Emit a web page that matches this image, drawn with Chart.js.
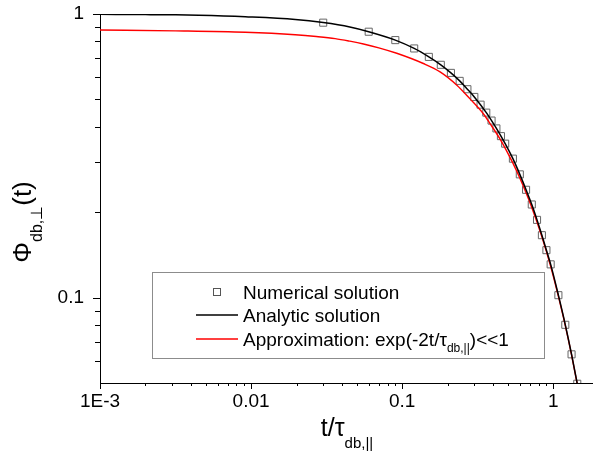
<!DOCTYPE html>
<html>
<head>
<meta charset="utf-8">
<title>Phi db perp</title>
<script src="https://cdn.jsdelivr.net/npm/chart.js@4.4.1/dist/chart.umd.min.js"></script>
<style>
  html, body { margin: 0; padding: 0; background: #fff; }
  #wrap { width: 593px; height: 456px; }
</style>
</head>
<body>
<div id="wrap"><canvas id="myChart" width="593" height="456"></canvas></div>
<script>
// numerical solution (open squares)
const numT = [0.03, 0.06, 0.09, 0.12, 0.15, 0.18, 0.21, 0.24, 0.27, 0.30, 0.33, 0.36, 0.39, 0.42, 0.45, 0.48,
              0.54, 0.60, 0.66, 0.72, 0.78, 0.84, 0.90, 0.96, 1.08, 1.20, 1.32, 1.44];
const numPhi = [0.932, 0.866, 0.809, 0.756, 0.706, 0.662, 0.620, 0.581, 0.543, 0.510, 0.479, 0.449, 0.421, 0.395, 0.371, 0.349,
                0.309, 0.272, 0.240, 0.213, 0.188, 0.166, 0.147, 0.131, 0.102, 0.0802, 0.0631, 0.0497];

// analytic solution (black)
const anaT = [0.001, 0.002, 0.00316, 0.0045, 0.00916, 0.0196, 0.03, 0.045, 0.06, 0.09, 0.12, 0.15, 0.18, 0.21, 0.24, 0.27, 0.30,
              0.36, 0.42, 0.48, 0.54, 0.60, 0.66, 0.72, 0.78, 0.84, 0.90, 0.96, 1.08, 1.20, 1.32, 1.44, 1.50];
const anaPhi = [0.997, 0.995, 0.993, 0.990, 0.978, 0.957, 0.933, 0.900, 0.866, 0.809, 0.756, 0.706, 0.662, 0.620, 0.581, 0.543, 0.510,
                0.449, 0.395, 0.349, 0.309, 0.272, 0.240, 0.213, 0.188, 0.166, 0.147, 0.131, 0.102, 0.0802, 0.0631, 0.0497, 0.044];

// approximation exp(-2t/tau) (red)
const aprT = [0.001, 0.00316, 0.00916, 0.0196, 0.027, 0.036, 0.045, 0.0554, 0.07, 0.092, 0.138, 0.178, 0.23, 0.28, 0.344, 0.381,
              0.45, 0.54, 0.60, 0.72, 0.84, 0.96, 1.08, 1.20, 1.32, 1.44, 1.50];
const aprPhi = [0.878, 0.872, 0.862, 0.845, 0.833, 0.819, 0.802, 0.784, 0.760, 0.727, 0.669, 0.625, 0.561, 0.503, 0.445, 0.411,
                0.358, 0.298, 0.264, 0.208, 0.164, 0.129, 0.101, 0.0797, 0.0628, 0.0495, 0.044];

// axis ticks
const xMajor = [0.001, 0.01, 0.1, 1];
const xLabels = ['1E-3', '0.01', '0.1', '1'];
const xMinor = [0.002, 0.003, 0.004, 0.005, 0.006, 0.007, 0.008, 0.009,
                0.02, 0.03, 0.04, 0.05, 0.06, 0.07, 0.08, 0.09,
                0.2, 0.3, 0.4, 0.5, 0.6, 0.7, 0.8, 0.9];
const yMajor = [0.1, 1];
const yLabels = ['0.1', '1'];
const yMinor = [0.06, 0.07, 0.08, 0.09, 0.2, 0.3, 0.4, 0.5, 0.6, 0.7, 0.8, 0.9];

const FONT = "'Liberation Sans', Arial, Helvetica, sans-serif";

const pts = (xs, ys) => xs.map((x, i) => ({x: x, y: ys[i]}));

// draws a run of text pieces, some of them lowered and smaller (subscripts)
function richText(ctx, parts, x, y, align) {
  let total = 0;
  parts.forEach(p => {
    ctx.font = p.size + 'px ' + FONT;
    p.w = ctx.measureText(p.text).width;
    total += p.w;
  });
  let cx = align === 'center' ? x - total / 2 : x;
  ctx.textAlign = 'left';
  ctx.textBaseline = 'alphabetic';
  parts.forEach(p => {
    ctx.font = p.size + 'px ' + FONT;
    ctx.fillText(p.text, cx, y + (p.dy || 0));
    cx += p.w;
  });
}

const decorations = {
  id: 'decorations',
  afterDraw(chart) {
    const ctx = chart.ctx;
    const xs = chart.scales.x, ys = chart.scales.y;
    const area = chart.chartArea;
    ctx.save();
    ctx.strokeStyle = '#000';
    ctx.lineWidth = 1;

    // tick marks, pointing outward
    ctx.beginPath();
    xMajor.concat(xMinor).forEach(v => {
      const px = Math.round(xs.getPixelForValue(v)) + 0.5;
      const len = xMajor.includes(v) ? 6 : 3;
      ctx.moveTo(px, area.bottom);
      ctx.lineTo(px, area.bottom + len);
    });
    yMajor.concat(yMinor).forEach(v => {
      const py = Math.round(ys.getPixelForValue(v)) + 0.5;
      const len = yMajor.includes(v) ? 7 : 5;
      ctx.moveTo(area.left, py);
      ctx.lineTo(area.left - len, py);
    });
    ctx.stroke();

    ctx.fillStyle = '#000';
    // x axis title
    richText(ctx, [
      {text: 't/τ', size: 25},
      {text: 'db,||', size: 15, dy: 12}
    ], 347, 436, 'center');

    // y axis title (rotated)
    ctx.save();
    ctx.translate(31, 222);
    ctx.rotate(-Math.PI / 2);
    richText(ctx, [
      {text: 'Φ', size: 26},
      {text: 'db,⊥', size: 16, dy: 11},
      {text: '(t)', size: 26}
    ], 0, 0, 'center');
    ctx.restore();

    // legend
    const lx = 152, ly = 272, lw = 392, lh = 86;
    ctx.strokeStyle = '#8c8c8c';
    ctx.strokeRect(lx + 0.5, ly + 0.5, lw, lh);

    const rows = [292, 315, 339];
    ctx.strokeStyle = '#555';
    ctx.strokeRect(213.5, rows[0] - 3.5, 7, 7);
    ctx.lineWidth = 1.5;
    ctx.strokeStyle = '#000';
    ctx.beginPath(); ctx.moveTo(196, rows[1]); ctx.lineTo(238, rows[1]); ctx.stroke();
    ctx.strokeStyle = '#ff0000';
    ctx.beginPath(); ctx.moveTo(196, rows[2]); ctx.lineTo(238, rows[2]); ctx.stroke();

    const tx = 243;
    richText(ctx, [{text: 'Numerical solution', size: 19}], tx, rows[0] + 7, 'left');
    richText(ctx, [{text: 'Analytic solution', size: 19}], tx, rows[1] + 7, 'left');
    richText(ctx, [
      {text: 'Approximation: exp(-2t/τ', size: 19},
      {text: 'db,||', size: 12, dy: 6},
      {text: ')<<1', size: 19}
    ], tx, rows[2] + 7, 'left');
    ctx.restore();
  }
};

new Chart(document.getElementById('myChart'), {
  type: 'line',
  data: {
    datasets: [
      {
        label: 'Numerical solution',
        data: pts(numT, numPhi),
        showLine: false,
        pointStyle: 'rect',
        pointRadius: 5,
        pointBorderWidth: 1,
        pointBorderColor: '#666',
        pointBackgroundColor: 'rgba(0,0,0,0)',
        order: 3
      },
      {
        label: 'Approximation',
        data: pts(aprT, aprPhi),
        borderColor: '#ff0000',
        borderWidth: 1.4,
        pointRadius: 0,
        cubicInterpolationMode: 'monotone',
        order: 2
      },
      {
        label: 'Analytic solution',
        data: pts(anaT, anaPhi),
        borderColor: '#000',
        borderWidth: 1.5,
        pointRadius: 0,
        cubicInterpolationMode: 'monotone',
        order: 1
      }
    ]
  },
  options: {
    responsive: false,
    animation: false,
    devicePixelRatio: 1,
    layout: { autoPadding: false, padding: { top: 14, right: 0, left: 0, bottom: 0 } },
    plugins: { legend: { display: false }, tooltip: { enabled: false } },
    scales: {
      x: {
        type: 'logarithmic',
        bounds: 'data',
        min: 0.001,
        max: 1.83,
        grid: { display: false, drawTicks: false },
        border: { display: true, color: '#000', width: 1 },
        afterBuildTicks: s => { s.ticks = xMajor.map(v => ({value: v})); },
        afterFit: s => { s.height = 73; s.paddingLeft = 0; s.paddingRight = 0; },
        ticks: {
          autoSkip: false,
          maxRotation: 0,
          padding: 7,
          color: '#000',
          font: { family: FONT, size: 19 },
          callback: (v) => xLabels[xMajor.indexOf(v)] || ''
        }
      },
      y: {
        type: 'logarithmic',
        bounds: 'data',
        min: 0.05,
        max: 1,
        grid: { display: false, drawTicks: false },
        border: { display: true, color: '#000', width: 1 },
        afterBuildTicks: s => { s.ticks = yMajor.map(v => ({value: v})); },
        afterFit: s => { s.width = 100; s.paddingTop = 0; s.paddingBottom = 0; },
        ticks: {
          autoSkip: false,
          padding: 16,
          color: '#000',
          font: { family: FONT, size: 19 },
          callback: (v) => yLabels[yMajor.indexOf(v)] || ''
        }
      }
    }
  },
  plugins: [decorations]
});
</script>
</body>
</html>
